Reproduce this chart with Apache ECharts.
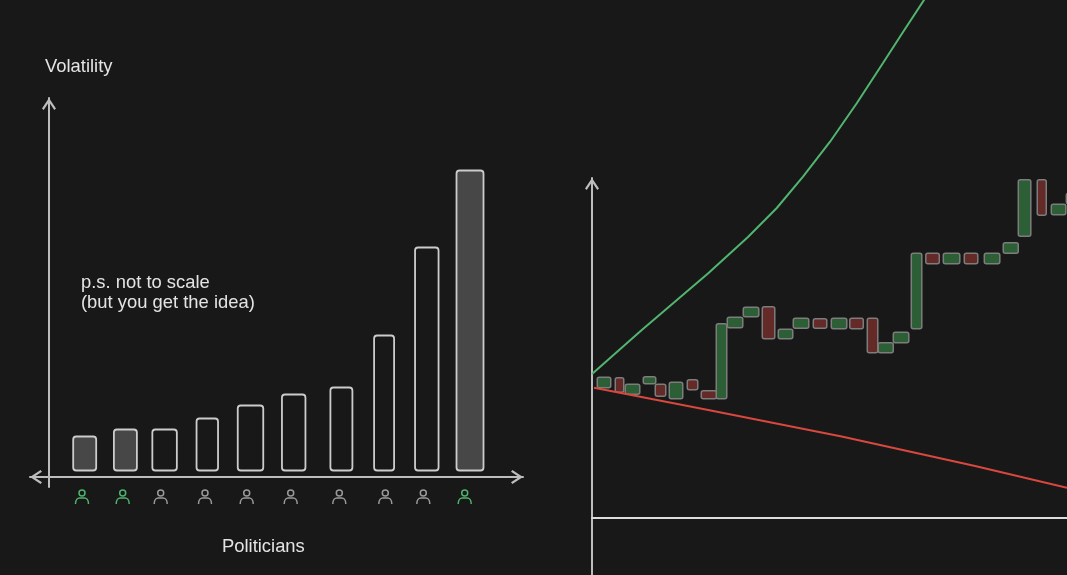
<!DOCTYPE html>
<html>
<head>
<meta charset="utf-8">
<style>
  html, body { margin: 0; padding: 0; background: #181818; }
  #chart { width: 1067px; height: 575px; }
</style>
</head>
<body>
<div id="chart"></div>
<script src="https://cdn.jsdelivr.net/npm/echarts@6/dist/echarts.min.js"></script>
<script>
// left chart: volatility per politician
const politicians = [1, 2, 3, 4, 5, 6, 7, 8, 9, 10]
const volatility = [41, 48, 48, 59, 72, 83, 90, 142, 230, 307]
const picked = [true, true, false, false, false, false, false, false, false, true]

// right chart: candles per session
const sessions = [1, 2, 3, 4, 5, 6, 7, 8, 9, 10, 11, 12, 13, 14, 15, 16, 17, 18, 19, 20, 21, 22, 23, 24, 25, 26, 27, 28, 29, 30]
const opens = [130, 140.5, 123.5, 134, 134, 119, 138.5, 127.5, 119, 190, 201, 211.5, 179, 189.5, 199.5, 189, 200, 200, 165, 175, 189, 265, 254, 265, 254, 264.5, 281.5, 338.5, 303, 314]
const closes = [141, 125.5, 134, 141.5, 121.5, 136, 128, 119, 194.5, 201, 211, 179, 189, 200, 189.5, 200, 189, 165, 175.5, 186, 265, 254, 265, 254, 265, 275.5, 338.5, 302.5, 314, 325]

// trend curves over the same sessions
const upperX = [0, 3.13, 7.31, 9.81, 11.62, 13.27, 14.97, 16.65, 18.3, 19.56, 20.88, 21.6]
const upperY = [144, 188, 244.7, 281, 310, 341.3, 376.3, 414.7, 455, 486, 518, 538]
const lowerX = [0.13, 7.31, 15.7, 24.09, 29.87]
const lowerY = [130.3, 108, 81.5, 52, 30.3]

// the drawing is by hand, so marks sit a little off their slots (pixels)
const barNudge = [-6.5, -8, -11, -10.5, -9.5, -8.5, -3, -2.5, -2, -1]
const barWidth = [23, 23, 24.5, 21.5, 25.5, 23.5, 22, 20, 23.5, 27]
const iconNudge = [-9.2, -10.7, -14.9, -12.8, -13.3, -11.5, -5.1, -1.3, -5.5, -6.3]
const candleNudge = [-3.9, -4.3, -7.2, -6.1, -11, -11.4, -10.8, -10.2, -13.6, -16, -15.9, -14.3, -13.2, -13.6, -10.5, -7.4, -5.8, -5.7, -8.4, -9, -9.4, -9.3, -6.2, -2.6, 2.5, 5.3, 3.2, 4.5, 5.4, 5]
const candleWidth = [14, 9, 15, 13, 11, 14, 11, 16, 11, 16, 16, 13, 15, 16, 14, 16, 14, 11, 15.5, 16, 11, 14, 17, 14, 16, 15.5, 13, 9.5, 15, 16]

const arrowHead = 'path://M7 0 L14 10.6 L12.3 12 L7 4 L1.7 12 L0 10.6 Z'
const axisColor = '#bdbdbd'
const textStyle = { color: '#e4e4e4', fontFamily: 'Liberation Sans', fontSize: 18.4, fontWeight: 'normal', lineHeight: 20 }

function axisLine(symbols, offsets, color) {
    return {
        show: true,
        onZero: true,
        symbol: symbols,
        symbolSize: [14, 12],
        symbolOffset: offsets,
        lineStyle: { color: color, width: 2 }
    }
}

function plainAxis(extra) {
    return Object.assign({
        type: 'value',
        axisTick: { show: false },
        axisLabel: { show: false },
        splitLine: { show: false }
    }, extra)
}

function renderBar(params, api) {
    const i = params.dataIndex
    const top = api.coord([api.value(0), api.value(1)])
    const base = api.coord([api.value(0), 0])
    const w = barWidth[i]
    return {
        type: 'rect',
        shape: { x: top[0] + barNudge[i] - w / 2, y: top[1] + 0.5, width: w, height: base[1] - 6.5 - top[1] - 0.5, r: 3 },
        style: { fill: picked[i] ? '#474747' : '#181818', stroke: '#cccccc', lineWidth: 1.8 }
    }
}

function renderIcon(params, api) {
    const i = params.dataIndex
    const p = api.coord([api.value(0), 0])
    const x = p[0] + iconNudge[i]
    const y = p[1]
    const color = picked[i] ? '#4fb36c' : '#9a9a9a'
    return {
        type: 'group',
        children: [
            {
                type: 'circle',
                shape: { cx: x, cy: y + 16, r: 3 },
                style: { fill: 'none', stroke: color, lineWidth: 1.5 }
            },
            {
                type: 'path',
                shape: {
                    pathData: 'M-6.5 6 C-6.5 1.5 -4 0 -2.5 0 L2.5 0 C4 0 6.5 1.5 6.5 6',
                    x: x - 6.5, y: y + 21, width: 13, height: 6
                },
                style: { fill: 'none', stroke: color, lineWidth: 1.5 }
            }
        ]
    }
}

function renderCandle(params, api) {
    const i = params.dataIndex
    const o = api.coord([api.value(0), api.value(1)])
    const c = api.coord([api.value(0), api.value(2)])
    const up = api.value(2) >= api.value(1)
    const w = candleWidth[i] - 0.5
    return {
        type: 'rect',
        shape: { x: o[0] + candleNudge[i] - w / 2, y: Math.min(o[1], c[1]) + 0.25, width: w, height: Math.abs(o[1] - c[1]) - 0.5, r: 2 },
        style: { fill: up ? '#2c5f35' : '#642a27', stroke: '#7d7d7d', lineWidth: 1.5 }
    }
}

const chart = echarts.init(document.getElementById('chart'), null, { renderer: 'canvas' })

chart.setOption({
    backgroundColor: '#181818',
    animation: false,
    title: [
        { text: 'Volatility', left: 40, top: 52, textStyle: textStyle },
        { text: 'p.s. not to scale\n(but you get the idea)', left: 76, top: 268, textStyle: textStyle },
        { text: 'Politicians', left: 217, top: 532, textStyle: textStyle }
    ],
    grid: [
        { left: 30, top: 98, width: 493, height: 389 },
        { left: 592, top: 178, width: 475, height: 397 }
    ],
    xAxis: [
        plainAxis({ gridIndex: 0, min: -0.45, max: 11.232, axisLine: axisLine([arrowHead, arrowHead], [6, -6], axisColor) }),
        plainAxis({ gridIndex: 1, min: 0, max: 29.87, axisLine: axisLine(['none', 'none'], [0, 0], '#dcdcdc') })
    ],
    yAxis: [
        plainAxis({ gridIndex: 0, min: -10, max: 379, axisLine: axisLine(['none', arrowHead], [0, -6], axisColor) }),
        plainAxis({ gridIndex: 1, min: -57, max: 340, axisLine: axisLine(['none', arrowHead], [0, -6], axisColor) })
    ],
    series: [
        {
            type: 'custom',
            xAxisIndex: 0,
            yAxisIndex: 0,
            silent: true,
            renderItem: renderBar,
            encode: { x: 0, y: 1 },
            data: politicians.map((p, i) => [p, volatility[i]])
        },
        {
            type: 'custom',
            xAxisIndex: 0,
            yAxisIndex: 0,
            silent: true,
            renderItem: renderIcon,
            encode: { x: 0 },
            data: politicians.map((p) => [p])
        },
        {
            type: 'custom',
            xAxisIndex: 1,
            yAxisIndex: 1,
            silent: true,
            renderItem: renderCandle,
            encode: { x: 0, y: [1, 2] },
            data: sessions.map((s, i) => [s, opens[i], closes[i]])
        },
        {
            type: 'line',
            xAxisIndex: 1,
            yAxisIndex: 1,
            silent: true,
            clip: false,
            showSymbol: false,
            lineStyle: { color: '#52b56f', width: 2 },
            data: upperX.map((x, i) => [x, upperY[i]])
        },
        {
            type: 'line',
            xAxisIndex: 1,
            yAxisIndex: 1,
            silent: true,
            clip: false,
            showSymbol: false,
            lineStyle: { color: '#d9483f', width: 2 },
            data: lowerX.map((x, i) => [x, lowerY[i]])
        }
    ]
})
</script>
</body>
</html>
